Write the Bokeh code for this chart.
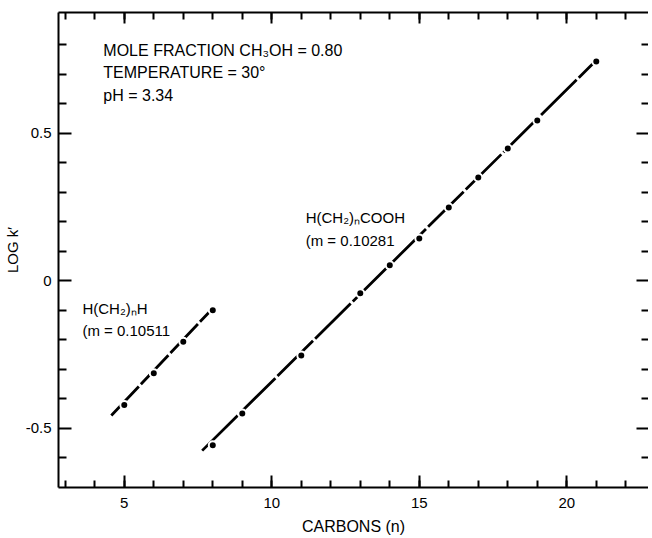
from bokeh.plotting import figure
from bokeh.models import Range1d, LinearAxis, FixedTicker, Label
from bokeh.embed import file_html
from bokeh.resources import INLINE

# data
cooh_n = [8, 9, 11, 13, 14, 15, 16, 17, 18, 19, 21]
cooh_logk = [-0.557, -0.449, -0.253, -0.042, 0.053, 0.144, 0.249, 0.351, 0.449, 0.544, 0.744]
cooh_line_x = [7.64, 21.0]
cooh_line_y = [-0.575, 0.748]

alk_n = [5, 6, 7, 8]
alk_logk = [-0.42, -0.313, -0.206, -0.099]
alk_line_x = [4.56, 7.94]
alk_line_y = [-0.456, -0.099]

x_major = [5, 10, 15, 20]
x_minor = list(range(3, 23))
y_major = [-0.5, 0, 0.5]
y_minor = [-0.6, -0.4, -0.3, -0.2, -0.1, 0.1, 0.2, 0.3, 0.4, 0.6, 0.7, 0.8]
y_labels = {-0.5: "-0.5", 0: "0", 0.5: "0.5"}

FONT = "Liberation Sans"

p = figure(frame_width=590, frame_height=475, output_backend="svg", toolbar_location=None,
           x_range=Range1d(2.77, 22.77), y_range=Range1d(-0.70, 0.91),
           min_border_left=52, min_border_right=0, min_border_top=12, min_border_bottom=43)
p.outline_line_color = None
p.grid.visible = False
p.background_fill_color = "white"

def style(ax, ticks, minor, labels, maj_in, min_in):
    ax.ticker = FixedTicker(ticks=ticks, minor_ticks=minor)
    ax.major_tick_in = maj_in
    ax.major_tick_out = 0
    ax.minor_tick_in = min_in
    ax.minor_tick_out = 0
    ax.major_tick_line_width = 2
    ax.minor_tick_line_width = 2
    ax.axis_line_width = 2
    ax.axis_line_color = "black"
    ax.major_tick_line_color = "black"
    ax.minor_tick_line_color = "black"
    if not labels:
        ax.major_label_text_font_size = "0px"
        ax.major_label_text_color = None
        ax.major_label_standoff = 0
    else:
        ax.major_label_text_font = FONT
        ax.major_label_text_font_size = "15px"
        ax.major_label_text_color = "black"

xb = p.xaxis[0]
style(xb, x_major, x_minor, True, 12, 7)
xb.major_label_standoff = 10
xb.axis_label = "CARBONS (n)"
xb.axis_label_text_font = FONT
xb.axis_label_text_font_size = "16px"
xb.axis_label_text_font_style = "normal"
xb.axis_label_text_color = "black"
xb.axis_label_standoff = 7

yl = p.yaxis[0]
style(yl, y_major, y_minor, True, 13, 8)
yl.major_label_overrides = y_labels
yl.major_label_standoff = 7
yl.axis_label = "LOG k\u2032"
yl.axis_label_text_font = FONT
yl.axis_label_text_font_size = "15px"
yl.axis_label_text_font_style = "normal"
yl.axis_label_text_color = "black"
yl.axis_label_standoff = 2

xt = LinearAxis()
style(xt, x_major, x_minor, False, 11, 7)
p.add_layout(xt, "above")

yr = LinearAxis()
style(yr, y_major, y_minor, False, 12, 7)
yr.axis_line_color = None
p.add_layout(yr, "right")

# lines
p.line(cooh_line_x, cooh_line_y, line_color="black", line_width=2.8, line_dash="50 3")
p.line(alk_line_x, alk_line_y, line_color="black", line_width=2.8, line_dash="40 3")
p.scatter(cooh_n, cooh_logk, size=8, fill_color="black", line_color="white", line_width=2)
p.scatter(alk_n, alk_logk, size=8, fill_color="black", line_color="white", line_width=2)

def lab(x, y, t, size="16px"):
    p.add_layout(Label(x=x, y=y, text=t, text_font=FONT, text_font_size=size,
                       text_baseline="middle", text_align="left", text_color="black"))

lab(4.29, 0.781, "MOLE FRACTION CH\u2083OH = 0.80")
lab(4.29, 0.707, "TEMPERATURE = 30\u00b0")
lab(4.29, 0.629, "pH = 3.34")
lab(11.15, 0.215, "H(CH\u2082)\u2099COOH", "15px")
lab(11.15, 0.137, "(m = 0.10281", "15px")
lab(3.58, -0.093, "H(CH\u2082)\u2099H", "15px")
lab(3.58, -0.168, "(m = 0.10511", "15px")

open("out.html", "w").write(file_html(p, INLINE))
